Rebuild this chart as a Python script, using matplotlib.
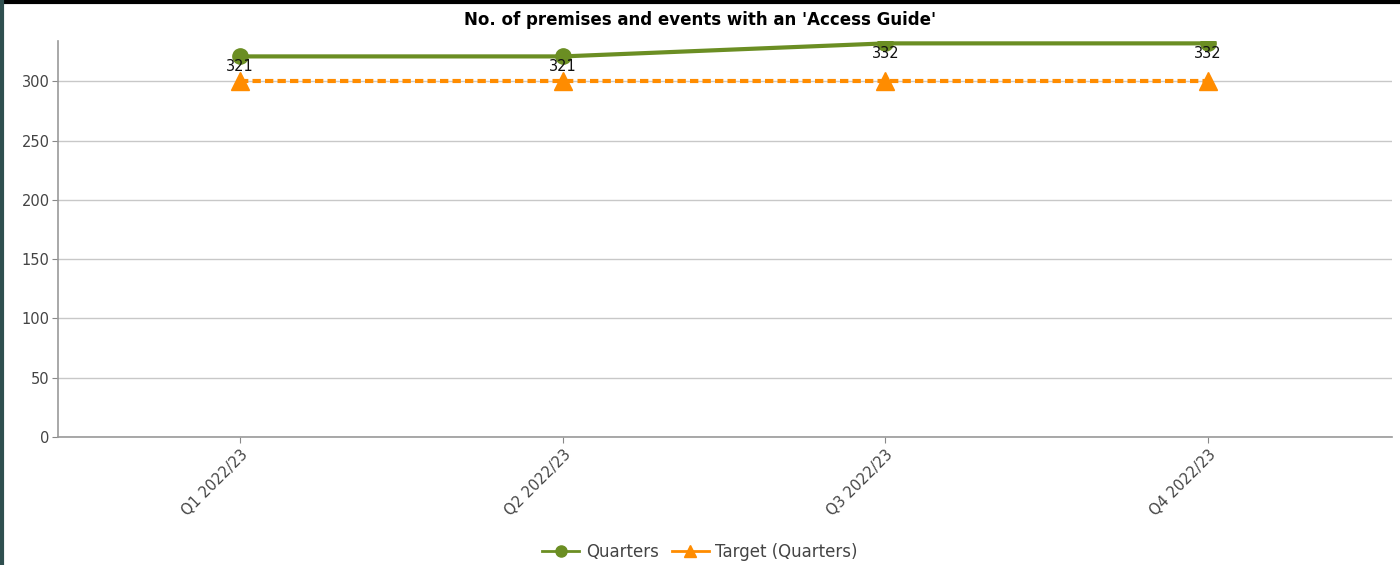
import matplotlib
matplotlib.use("Agg")
import matplotlib.pyplot as plt
from matplotlib.lines import Line2D

quarters = ["Q1 2022/23", "Q2 2022/23", "Q3 2022/23", "Q4 2022/23"]
actual = [321, 321, 332, 332]
target = [300, 300, 300, 300]
yticks = [0, 50, 100, 150, 200, 250, 300]

green = "#6b8e23"
orange = "#ff8c00"

fig = plt.figure(figsize=(14, 5.65), dpi=100)
ax = fig.add_axes([58/1400, 1-437/565, (1392-58)/1400, (437-41)/565])

x = list(range(len(quarters)))
ax.plot(x, target, color=orange, lw=3, ls=(0, (2, 1)), marker="^", ms=13,
        label="Target (Quarters)", zorder=3, clip_on=False)
ax.plot(x, actual, color=green, lw=3, marker="o", ms=11,
        label="Quarters", zorder=4)

for xi, v in zip(x, actual):
    ax.annotate(str(v), (xi, v), xytext=(0, -2), textcoords="offset points",
                ha="center", va="top", fontsize=10.5, color="#111111", zorder=5)

ax.set_xlim(-0.565, 3.57)
ax.set_ylim(0, 334)
ax.set_yticks(yticks)
ax.set_xticks(x)
ax.set_xticklabels(quarters, rotation=45, ha="right", rotation_mode="anchor")
ax.tick_params(axis="both", colors="#888888", labelcolor="#444444", labelsize=10.5, length=4)
ax.tick_params(axis="y", pad=2)
ax.grid(axis="y", color="#c8c8c8", lw=1)
ax.set_axisbelow(True)
for s in ["top", "right"]:
    ax.spines[s].set_visible(False)
for s in ["left", "bottom"]:
    ax.spines[s].set_color("#999999")
    ax.spines[s].set_linewidth(1.2)

fig.text(0.5, 1-20/565, "No. of premises and events with an 'Access Guide'",
         ha="center", va="center", fontsize=12, fontweight="bold")

handles = [Line2D([], [], color=green, lw=2, marker="o", ms=8),
           Line2D([], [], color=orange, lw=2, marker="^", ms=9)]
fig.legend(handles, ["Quarters", "Target (Quarters)"], loc="center",
           bbox_to_anchor=(0.5, 1-552/565), ncol=2, frameon=False,
           fontsize=12, labelcolor="#444444", handlelength=2.2,
           columnspacing=0.8, handletextpad=0.4)

# outer frame lines
fig.add_artist(Line2D([0, 1], [1-2/565, 1-2/565], color="black", lw=3,
                      transform=fig.transFigure))
fig.add_artist(Line2D([1.5/1400, 1.5/1400], [0, 1-2/565], color="#2f4f4f", lw=3,
                      transform=fig.transFigure))

fig.savefig("out.png", dpi=100)
